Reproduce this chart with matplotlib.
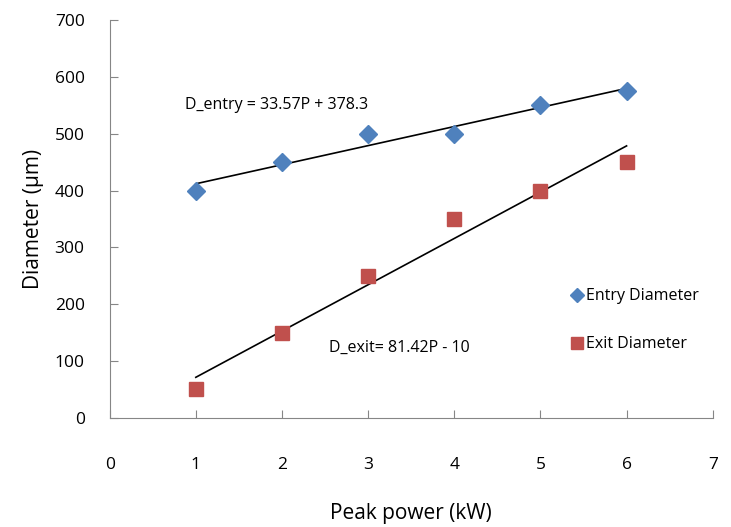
import numpy as np
import matplotlib
matplotlib.use("Agg")
import matplotlib.pyplot as plt

# peak power (kW) and measured hole diameters (um)
power = [1, 2, 3, 4, 5, 6]
entry_d = [400, 450, 500, 500, 550, 575]
exit_d = [50, 150, 250, 350, 400, 450]

plt.rcParams['font.family'] = ['Open Sans', 'DejaVu Sans']

fig = plt.figure(figsize=(7.31, 5.27), dpi=100)
ax = fig.add_axes([0.150, 0.207, 0.825, 0.755])

ax.plot(power, entry_d, 'D', color='#4F81BD', markersize=9, label='Entry Diameter', zorder=3)
ax.plot(power, exit_d, 's', color='#C0504D', markersize=10, label='Exit Diameter', zorder=3)

# linear trendlines
x = np.array(power)
for y in (entry_d, exit_d):
    k, b = np.polyfit(x, y, 1)
    ax.plot(x, k * x + b, color='black', lw=1.2, zorder=2)

ax.text(0.87, 550, 'D_entry = 33.57P + 378.3', fontsize=11.5, va='center')
ax.text(2.55, 123, 'D_exit= 81.42P - 10', fontsize=11.5, va='center')

ax.set_xlim(0, 7)
ax.set_ylim(0, 700)
ax.set_xticks(range(0, 8))
ax.set_yticks(range(0, 701, 100))

for s in ('top', 'right'):
    ax.spines[s].set_visible(False)
for s in ('left', 'bottom'):
    ax.spines[s].set_color('#868686')
ax.tick_params(axis='x', direction='in', length=6, color='#868686', pad=28, labelsize=12.5)
ax.tick_params(axis='y', direction='in', length=6, color='#868686', pad=18, labelsize=12.5)

ax.set_xlabel('Peak power (kW)', fontsize=15, labelpad=22)
ax.set_ylabel('Diameter (µm)', fontsize=15, labelpad=8)

ax.legend(loc='center left', bbox_to_anchor=(0.735, 0.245), frameon=False, fontsize=11.5,
          handletextpad=0.0, labelspacing=2.0, handlelength=1.2, markerscale=0.8)

fig.savefig('out.png', dpi=100)
